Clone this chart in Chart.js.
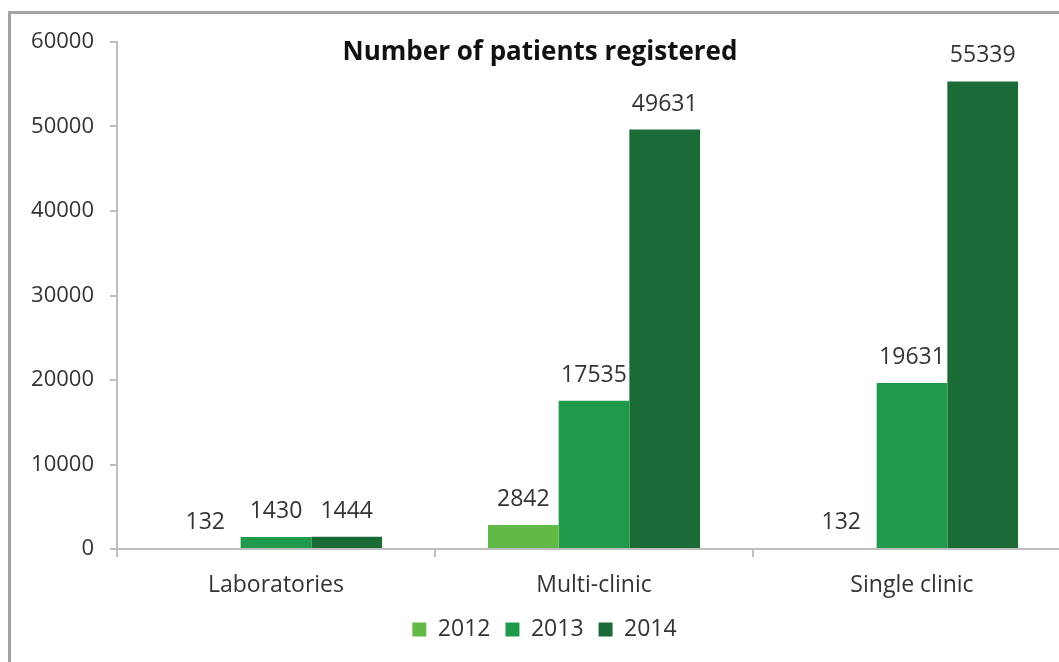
<!DOCTYPE html>
<html>
<head>
<meta charset="utf-8">
<script src="https://cdn.jsdelivr.net/npm/chart.js@4/dist/chart.umd.min.js"></script>
<style>
  html, body { margin: 0; padding: 0; background: #fff; overflow: hidden; }
  #frame {
    position: absolute; left: 8px; top: 11px; width: 1100px; height: 700px;
    border: 3px solid #a3a3a3; box-sizing: border-box;
  }
  #wrap { position: absolute; left: 0; top: 0; width: 1090px; height: 662px; }
</style>
</head>
<body>
<div id="frame"></div>
<div id="wrap"><canvas id="chart" width="1090" height="662"></canvas></div>
<script>
  // Chart data
  const categories = ["Laboratories", "Multi-clinic", "Single clinic"];
  const years = ["2012", "2013", "2014"];
  const values2012 = [132, 2842, 132];
  const values2013 = [1430, 17535, 19631];
  const values2014 = [1444, 49631, 55339];
  const yTicks = [0, 10000, 20000, 30000, 40000, 50000, 60000];
  const chartTitle = "Number of patients registered";

  const colors = ["#62b946", "#1f9a4b", "#1b6b36"];
  const fontFamily = "'Open Sans', 'DejaVu Sans', sans-serif";

  // Draws the value above each bar
  const valueLabels = {
    id: "valueLabels",
    afterDatasetsDraw(chart) {
      const ctx = chart.ctx;
      ctx.save();
      ctx.font = "23px " + fontFamily;
      ctx.fillStyle = "#333";
      ctx.textAlign = "center";
      ctx.textBaseline = "bottom";
      chart.data.datasets.forEach((ds, i) => {
        chart.getDatasetMeta(i).data.forEach((bar, j) => {
          ctx.fillText(String(ds.data[j]), bar.x, bar.y - 14);
        });
      });
      ctx.restore();
    }
  };

  // Title sits inside the plot area, like the original
  const titlePlugin = {
    id: "insideTitle",
    afterDraw(chart) {
      const ctx = chart.ctx;
      ctx.save();
      ctx.font = "bold 26px " + fontFamily;
      ctx.fillStyle = "#111";
      ctx.textAlign = "center";
      ctx.textBaseline = "middle";
      ctx.fillText(chartTitle, 540, 53);
      ctx.restore();
    }
  };

  // The legend sits closer to the axis labels than Chart.js would put it
  const legendShift = {
    id: "legendShift",
    afterLayout(chart) {
      const lg = chart.legend;
      if (!lg) return;
      lg.top -= 11;
      lg.bottom -= 11;
      lg.left += 9;
      lg.right += 9;
    }
  };

  new Chart(document.getElementById("chart"), {
    type: "bar",
    data: {
      labels: categories,
      datasets: [
        { label: years[0], data: values2012, backgroundColor: colors[0] },
        { label: years[1], data: values2013, backgroundColor: colors[1] },
        { label: years[2], data: values2014, backgroundColor: colors[2] }
      ]
    },
    options: {
      responsive: false,
      animation: false,
      layout: { padding: { left: 0, right: 19, top: 42, bottom: 0 } },
      datasets: {
        bar: { categoryPercentage: 0.667, barPercentage: 1.0 }
      },
      scales: {
        x: {
          grid: {
            offset: true, drawOnChartArea: false, drawTicks: true,
            tickLength: 8, color: "#bfbfbf", lineWidth: 2
          },
          border: { color: "#bfbfbf", width: 2 },
          ticks: {
            color: "#333", padding: 17,
            font: { family: fontFamily, size: 23, lineHeight: 1.0 }
          }
        },
        y: {
          min: 0, max: 60000,
          afterFit(scale) { scale.width = 117; },
          afterBuildTicks(scale) { scale.ticks = yTicks.map(v => ({ value: v })); },
          grid: {
            drawOnChartArea: false, drawTicks: true,
            tickLength: 7, color: "#bfbfbf", lineWidth: 2
          },
          border: { color: "#bfbfbf", width: 2 },
          ticks: {
            color: "#333", padding: 16,
            callback: v => String(v),
            font: { family: fontFamily, size: 22 }
          }
        }
      },
      plugins: {
        legend: {
          position: "bottom",
          labels: {
            color: "#333", boxWidth: 14, boxHeight: 14, padding: 15,
            font: { family: fontFamily, size: 23 }
          }
        },
        tooltip: { enabled: false }
      }
    },
    plugins: [valueLabels, titlePlugin, legendShift]
  });
</script>
</body>
</html>
